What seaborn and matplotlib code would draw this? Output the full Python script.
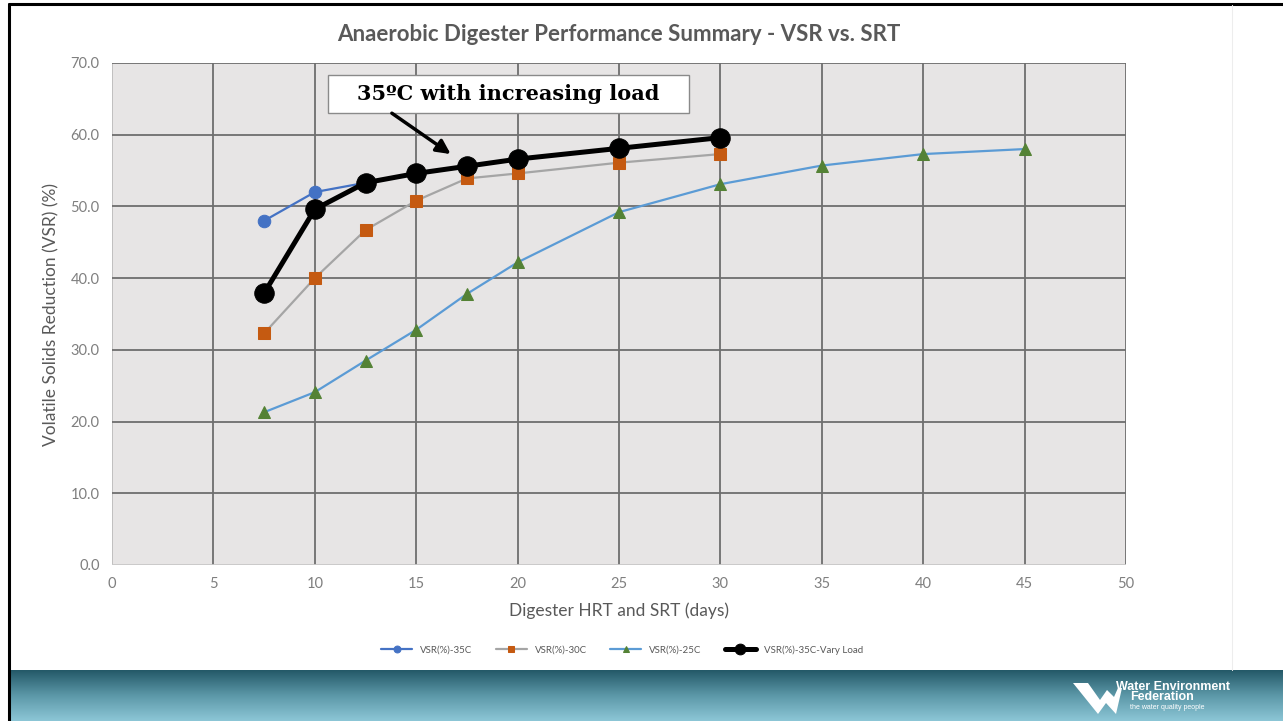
import numpy as np
import pandas as pd
import matplotlib
matplotlib.use("Agg")
import matplotlib.pyplot as plt
from matplotlib.lines import Line2D
from matplotlib.patches import Polygon, Rectangle
from matplotlib.colors import LinearSegmentedColormap
import seaborn as sns

# Digester HRT/SRT (days)
srt_35 = [7.5, 10, 12.5, 15, 17.5, 20, 25, 30]
vsr_35 = [48.0, 52.0, 53.3, 54.6, 55.6, 56.6, 58.1, 59.6]

srt_30 = [7.5, 10, 12.5, 15, 17.5, 20, 25, 30]
vsr_30 = [32.3, 40.0, 46.7, 50.8, 53.9, 54.6, 56.1, 57.3]

srt_25 = [7.5, 10, 12.5, 15, 17.5, 20, 25, 30, 35, 40, 45]
vsr_25 = [21.3, 24.1, 28.5, 32.8, 37.8, 42.2, 49.2, 53.1, 55.7, 57.3, 58.0]

srt_vary = [7.5, 10, 12.5, 15, 17.5, 20, 25, 30]
vsr_vary = [37.9, 49.6, 53.3, 54.6, 55.6, 56.6, 58.1, 59.6]

series_names = ["VSR(%)-35C", "VSR(%)-30C", "VSR(%)-25C", "VSR(%)-35C-Vary Load"]
x_ticks = [0, 5, 10, 15, 20, 25, 30, 35, 40, 45, 50]
y_ticks = [0, 10, 20, 30, 40, 50, 60, 70]

sns.set_theme(style="white")
plt.rcParams["font.family"] = ["Lato", "DejaVu Sans"]

W, H = 1283, 721
fig = plt.figure(figsize=(W / 100, H / 100), dpi=100)
fig.patch.set_facecolor("white")

ax = fig.add_axes([112 / W, 1 - 565 / H, (1126 - 112) / W, (565 - 63) / H])
ax.set_facecolor("#E7E5E5")

grid_c = "#6E6E6E"
for xv in x_ticks:
    ax.axvline(xv, color=grid_c if xv > 0 else "#BDBDBD", lw=1.3, zorder=0.5)
for yv in y_ticks:
    ax.axhline(yv, color=grid_c if yv > 0 else "#C8C8C8", lw=1.3, zorder=0.5)

styles = [
    dict(x=srt_35, y=vsr_35, color="#4472C4", marker="o", markersize=9,
         markerfacecolor="#4472C4", markeredgecolor="#4472C4", linewidth=1.6, zorder=3),
    dict(x=srt_30, y=vsr_30, color="#A5A5A5", marker="s", markersize=9,
         markerfacecolor="#C55A11", markeredgecolor="#C55A11", linewidth=1.6, zorder=2),
    dict(x=srt_25, y=vsr_25, color="#5B9BD5", marker="^", markersize=9,
         markerfacecolor="#548235", markeredgecolor="#548235", linewidth=1.6, zorder=2),
    dict(x=srt_vary, y=vsr_vary, color="black", marker="o", markersize=14,
         markerfacecolor="black", markeredgecolor="black", linewidth=3.6, zorder=4),
]
for name, st in zip(series_names, styles):
    st = dict(st)
    xs, ys = st.pop("x"), st.pop("y")
    z = st.pop("zorder")
    sns.lineplot(x=xs, y=ys, ax=ax, label=name, sort=False, zorder=z, **st)

ax.set_xlim(0, 50)
ax.set_ylim(0, 70)
ax.set_xticks(x_ticks)
ax.set_yticks(y_ticks)
ax.set_yticklabels([f"{v:.1f}" for v in y_ticks])
for s in ax.spines.values():
    s.set_visible(False)
ax.tick_params(axis="y", length=5, color=grid_c, width=1.2, labelsize=10.5,
               labelcolor="#7F7F7F", pad=4)
ax.tick_params(axis="x", length=0, labelsize=10.5, labelcolor="#7F7F7F", pad=9)

ax.set_xlabel("Digester HRT and SRT (days)", fontsize=12.5, color="#595959", labelpad=8)
ax.set_ylabel("Volatile Solids Reduction (VSR) (%)", fontsize=12.5, color="#595959", labelpad=8)
ax.set_title("Anaerobic Digester Performance Summary - VSR vs. SRT",
             fontsize=16, fontweight="bold", color="#595959", pad=16)

# callout for the varying-load series
ax.add_patch(Rectangle((10.65, 63.05), 17.8, 5.3, fc="white", ec="#8A8A8A", lw=1,
                       zorder=6, clip_on=False))
ax.text(19.55, 65.65, "35ºC with increasing load", ha="center", va="center",
        fontsize=15, fontweight="bold", family="DejaVu Serif", color="black",
        zorder=7)
ax.annotate("", xy=(16.7, 57.3), xytext=(13.8, 63.0),
            arrowprops=dict(arrowstyle="-|>,head_length=0.7,head_width=0.35",
                            color="black", lw=2.5, shrinkA=0, shrinkB=0),
            zorder=6)

handles, labels = ax.get_legend_handles_labels()
ax.legend(handles, labels, loc="center", bbox_to_anchor=(622 / W, 1 - 650 / H),
          bbox_transform=fig.transFigure, ncol=4, frameon=False, fontsize=7,
          handlelength=3.2, columnspacing=2.4, markerscale=0.55,
          labelcolor="#595959")

# slide frame
fig.add_artist(Line2D([9 / W, 9 / W], [0, 1 - 4 / H], color="black", lw=2.2,
                      transform=fig.transFigure))
fig.add_artist(Line2D([9 / W, 1], [1 - 4 / H, 1 - 4 / H], color="black", lw=2.2,
                      transform=fig.transFigure))
fig.add_artist(Line2D([1232 / W, 1232 / W], [51 / H, 1 - 5 / H], color="#EDEDED", lw=0.8,
                      transform=fig.transFigure))

# footer band
band = fig.add_axes([10 / W, 0, 1 - 10 / W, 51 / H])
grad = np.linspace(0, 1, 100).reshape(-1, 1)
cmap = LinearSegmentedColormap.from_list("band", ["#245968", "#5C98A8", "#8CC6D6"])
band.imshow(grad, aspect="auto", cmap=cmap, extent=[0, 1, 0, 1], origin="upper")
band.set_axis_off()
band.set_xlim(0, 1)
band.set_ylim(0, 1)

# footer logo
logo = fig.add_axes([1070 / W, 0, 190 / W, 51 / H])
logo.set_xlim(0, 190)
logo.set_ylim(51, 0)
logo.set_axis_off()
logo.add_patch(Polygon([[3, 13], [18, 13], [30, 30], [37, 20], [44, 27], [48, 18],
                        [52, 18], [46, 44], [36, 33], [28, 44]],
                       closed=True, fc="white", ec="none"))
logo.text(46, 17, "Water Environment", color="white", fontsize=9, fontweight="bold",
          family="Liberation Sans", va="center", ha="left")
logo.text(60, 27.5, "Federation", color="white", fontsize=9, fontweight="bold",
          family="Liberation Sans", va="center", ha="left")
logo.text(60, 37.5, "the water quality people", color="white", fontsize=5,
          family="Liberation Sans", va="center", ha="left")

fig.savefig("out.png", dpi=100)
